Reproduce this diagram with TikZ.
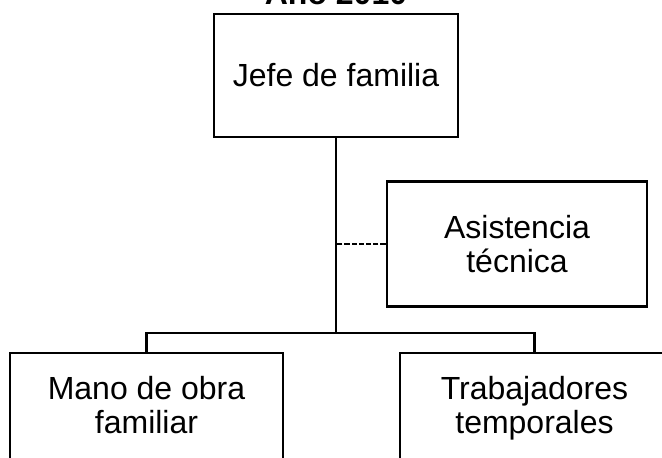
\documentclass[tikz,border=0pt]{standalone}
\usepackage{fontspec}
\setmainfont{Liberation Sans}
\usetikzlibrary{positioning}

\begin{document}
\begin{tikzpicture}[
    x=0.5pt, y=-0.5pt,
    font=\fontsize{16}{17}\selectfont,
    caja/.style={rectangle, draw=black, line width=1.4pt, align=center,
                 inner sep=0pt},
    abajo/.style={caja, minimum height=60pt, text depth=8pt},
    titulo/.style={font=\fontsize{16}{17}\selectfont\bfseries, inner sep=0pt},
    linea/.style={line width=1.4pt, line join=miter},
    punteado/.style={line width=1.4pt, dash pattern=on 2.6pt off 1pt}
]
\useasboundingbox (0,0) rectangle (662,457);
\clip (0,0) rectangle (662,457);
% --- Cajas ---
\node[caja, minimum width=122pt, minimum height=61.5pt] (jefe) at (336,75.5)
    {Jefe de familia};
\node[caja, minimum width=130pt, minimum height=62.5pt] (asistencia) at (517,244)
    {Asistencia\\técnica};
\node[abajo, minimum width=136.5pt] (mano) at (146.5,413)
    {Mano de obra\\familiar};
\node[abajo, minimum width=134.5pt] (trab) at (534.5,413)
    {Trabajadores\\temporales};
% --- Titulo ---
\node[titulo, above=3.5pt of jefe] (anio) {Año 2010};
% --- Lineas ---
\coordinate (barra) at (336,333);
\draw[linea] (jefe) -- (barra);
\draw[linea] (mano.north) |- (barra) -| (trab.north);
\draw[punteado] (asistencia.west) -- (asistencia.west -| barra);
\end{tikzpicture}
\end{document}
